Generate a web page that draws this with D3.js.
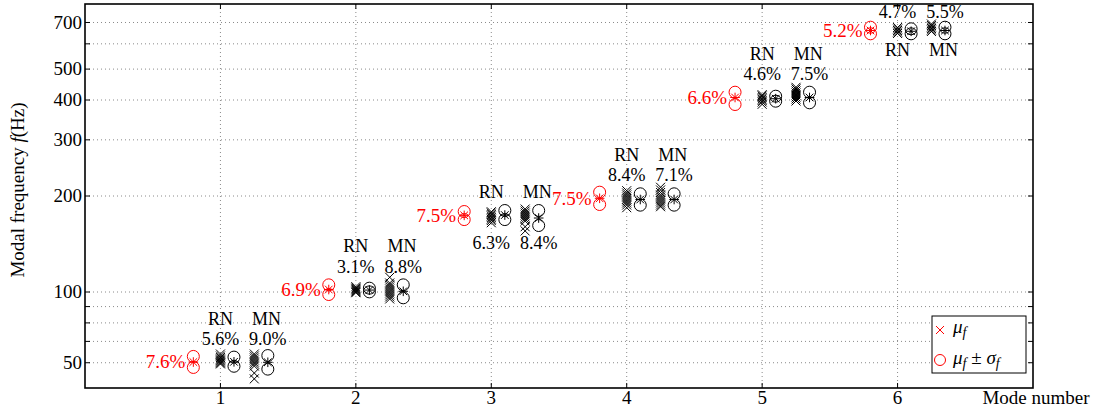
<!DOCTYPE html>
<html><head><meta charset="utf-8">
<script src="https://cdn.jsdelivr.net/npm/d3@7"></script>
<style>body{margin:0;background:#fff} text{font-family:"Liberation Serif",serif}</style>
</head><body><svg id="c" width="1100" height="412"></svg>
<script>
const modes=[1,2,3,4,5,6];
const xTickLabels=["1","2","3","4","5","6"];
const yTickValues=[60,70,80,90,100,200,300,400,500,600,700];
const yTickLabels=["50","","","","100","200","300","400","500","","700"];
const redPct=["7.6%","6.9%","7.5%","7.5%","6.6%","5.2%"];
const rnPct=["5.6%","3.1%","6.3%","8.4%","4.6%","4.7%"];
const mnPct=["9.0%","8.8%","8.4%","7.1%","7.5%","5.5%"];
const redMean=[60.3,101.8,173.9,196.7,407.3,660.7];
const redUpper=[62.8,105.3,178.8,205.6,423.2,676.6];
const redLower=[58.0,98.2,168.7,188.1,387.2,645.1];
const rnMean=[60.4,101.4,174.3,195.0,403.8,656.9];
const rnUpper=[62.5,102.8,180.1,203.2,411.1,668.8];
const rnLower=[58.5,100.1,168.7,187.2,396.6,645.1];
const mnMean=[60.2,100.5,170.6,195.0,407.3,660.7];
const mnUpper=[63.2,105.3,180.1,203.2,423.2,676.6];
const mnLower=[57.3,95.9,161.6,187.2,392.0,645.1];
const rnSamples=[[63.9,63.0,62.3,61.7,61.2,60.8,60.3,59.9,59.5],[103.9,102.9,102.2,101.5,100.7,100.0,99.5],[178.5,176.8,174.9,173.1,171.2,169.3,167.5,164.9],[207.8,204.4,201.5,198.6,195.7,192.9,190.2,187.4,183.8],[415.6,411.7,407.3,402.9,398.6,394.3,387.8],[675.2,667.9,660.7,653.6,646.6]];
const mnSamples=[[63.9,63.0,62.1,61.2,60.3,59.5,58.6,55.7,53.4],[111.2,106.7,105.2,103.7,102.2,100.7,99.3,97.9,96.5,95.1],[182.0,179.4,176.8,174.3,171.8,169.3,166.9,160.2,155.4],[213.0,208.9,205.1,201.5,198.6,195.7,192.9,190.2,187.4,185.1],[438.4,433.1,426.9,420.8,414.7,408.8,402.9,397.1],[692.4,684.9,677.6,670.3,663.1,656.0]];

const L=85,R=1033,T=4,B=388;
const x=d3.scaleLinear().domain([0,7]).range([L,R]);
const y=d3.scaleLog().domain([50,800]).range([B,T]);
const svg=d3.select("#c");
const FS=19, LFS=18, RED="#ff0000";

// grid
const g=svg.append("g");
g.selectAll("line.gy").data(yTickValues).join("line").attr("x1",L).attr("x2",R)
 .attr("y1",d=>y(d)).attr("y2",d=>y(d)).attr("stroke","#8a8a8a").attr("stroke-dasharray","1,3");
g.selectAll("line.gx").data(modes).join("line").attr("y1",T).attr("y2",B)
 .attr("x1",d=>x(d)).attr("x2",d=>x(d)).attr("stroke","#8a8a8a").attr("stroke-dasharray","1,3");

const cross=s=>`M${-s},${-s}L${s},${s}M${-s},${s}L${s},${-s}`;
const star=s=>cross(s)+`M${-s-1},0L${s+1},0M0,${-s-1}L0,${s+1}`;

function column(xv,vals,color){
  svg.append("g").selectAll("path").data(vals).join("path")
   .attr("transform",d=>`translate(${x(xv)},${y(d)})`).attr("d",cross(4.5))
   .attr("stroke",color).attr("stroke-width",1).attr("fill","none");
}
function circles(xv,m,u,l,color){
  const gg=svg.append("g");
  gg.selectAll("circle").data([u,l]).join("circle").attr("cx",x(xv)).attr("cy",d=>y(d)).attr("r",6)
   .attr("fill","none").attr("stroke",color).attr("stroke-width",1);
  gg.append("path").attr("transform",`translate(${x(xv)},${y(m)})`).attr("d",star(3.8))
   .attr("stroke",color).attr("stroke-width",1).attr("fill","none");
}
function label(xv,yy,txt,fs,color,anchor){
  svg.append("text").attr("x",xv).attr("y",yy).attr("text-anchor",anchor||"middle")
   .attr("font-size",fs||FS).attr("fill",color||"#000").text(txt);
}

modes.forEach((m,i)=>{
  column(m,rnSamples[i],"#000");
  column(m+0.25,mnSamples[i],"#000");
  circles(m-0.2,redMean[i],redUpper[i],redLower[i],RED);
  circles(m+0.1,rnMean[i],rnUpper[i],rnLower[i],"#000");
  circles(m+0.35,mnMean[i],mnUpper[i],mnLower[i],"#000");
  const my=y(redMean[i]);
  svg.append("text").attr("x",x(m-0.2)-8).attr("y",my).attr("dy","0.33em").attr("text-anchor","end")
   .attr("font-size",FS).attr("fill",RED).text(redPct[i]);
  let nameY,pctY;
  if(i===2){nameY=my-17;pctY=my+34;}
  else if(i===5){pctY=my-12.5;nameY=my+26;}
  else {pctY=my-17;nameY=my-37.5;}
  label(x(m),nameY,"RN",LFS);
  label(x(m+0.34),nameY,"MN",LFS);
  label(x(m),pctY,rnPct[i],LFS);
  label(x(m+0.35),pctY,mnPct[i],LFS);
});

// legend
const lg=svg.append("g");
lg.append("rect").attr("x",932).attr("y",316).attr("width",94).attr("height",57).attr("fill","#fff").attr("stroke","#000").attr("stroke-width",1);
lg.append("path").attr("transform","translate(940,330)").attr("d",cross(4)).attr("stroke",RED).attr("fill","none");
lg.append("circle").attr("cx",940).attr("cy",360).attr("r",5.5).attr("stroke",RED).attr("fill","none");
function mu(t,xx,yy,extra){
  const tx=t.append("text").attr("x",xx).attr("y",yy).attr("font-size",FS);
  tx.append("tspan").attr("font-style","italic").text("μ");
  tx.append("tspan").attr("font-style","italic").attr("font-size",14).attr("dy",4).text("f");
  if(extra){
    tx.append("tspan").attr("dy",-4).text(" ± ");
    tx.append("tspan").attr("font-style","italic").text("σ");
    tx.append("tspan").attr("font-style","italic").attr("font-size",14).attr("dy",4).text("f");
  }
}
mu(lg,953,333,false);
mu(lg,953,364,true);

// frame & ticks
svg.append("rect").attr("x",L).attr("y",T).attr("width",R-L).attr("height",B-T).attr("fill","none").attr("stroke","#000").attr("stroke-width",1.6);
const tk=svg.append("g").attr("stroke","#000").attr("stroke-width",1);
yTickValues.forEach(v=>{
  tk.append("line").attr("x1",L).attr("x2",L+5).attr("y1",y(v)).attr("y2",y(v));
  tk.append("line").attr("x1",R-5).attr("x2",R).attr("y1",y(v)).attr("y2",y(v));
});
modes.forEach(v=>{
  tk.append("line").attr("x1",x(v)).attr("x2",x(v)).attr("y1",B).attr("y2",B-5);
  tk.append("line").attr("x1",x(v)).attr("x2",x(v)).attr("y1",T).attr("y2",T+5);
});
yTickValues.forEach((v,i)=>{ if(yTickLabels[i]) svg.append("text").attr("x",L-3).attr("y",y(v)).attr("dy","0.33em")
  .attr("text-anchor","end").attr("font-size",FS).text(yTickLabels[i]); });
modes.forEach((v,i)=>label(x(v),404,xTickLabels[i]));
label(1036,404,"Mode number");
const yt=svg.append("text").attr("transform","translate(24,190) rotate(-90)").attr("text-anchor","middle").attr("font-size",FS);
yt.append("tspan").text("Modal frequency ");
yt.append("tspan").attr("font-style","italic").text("f");
yt.append("tspan").text("(Hz)");
</script></body></html>
